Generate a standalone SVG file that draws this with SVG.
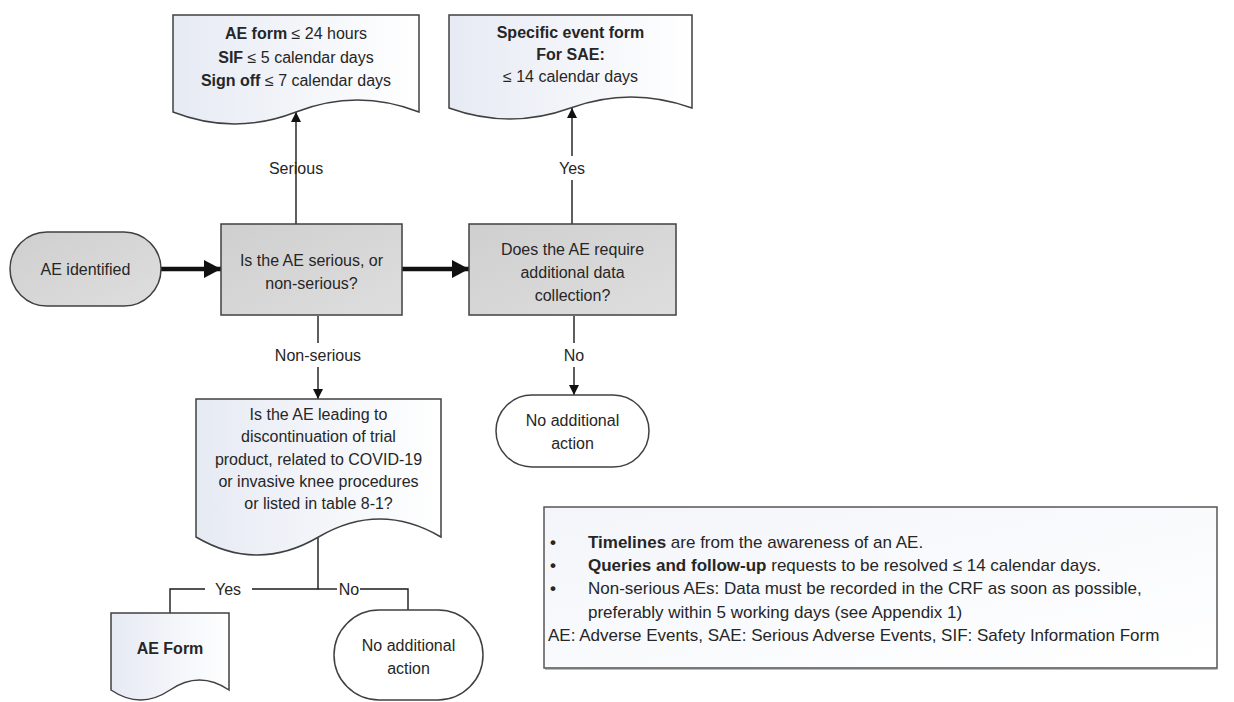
<svg xmlns="http://www.w3.org/2000/svg" width="1234" height="702" viewBox="0 0 1234 702">
<defs>
<style>
text{font-family:"Liberation Sans",Arial,sans-serif;font-size:16px;fill:#262626;text-anchor:middle;dominant-baseline:central}
.b{font-weight:bold}
.proc{fill:url(#gray);stroke:#404040;stroke-width:1.5}
.doc{fill:url(#doc);stroke:#404040;stroke-width:1.5}
.term{fill:#ffffff;stroke:#404040;stroke-width:1.5}
.conn{fill:none;stroke:#1a1a1a;stroke-width:1.4}
.thick{fill:none;stroke:#111;stroke-width:4.5}
.leg{text-anchor:start;font-size:17px}
</style>
<linearGradient id="gray" x1="0" y1="0" x2="1" y2="1">
<stop offset="0" stop-color="#cfcfcf"/><stop offset="1" stop-color="#dedede"/>
</linearGradient>
<linearGradient id="doc" x1="0" y1="0" x2="1" y2="0">
<stop offset="0" stop-color="#e6eaf3"/><stop offset="1" stop-color="#ffffff"/>
</linearGradient>
<linearGradient id="legfill" x1="0" y1="0" x2="1" y2="1">
<stop offset="0" stop-color="#f3f5fa"/><stop offset="1" stop-color="#ffffff"/>
</linearGradient>
<marker id="ah" markerUnits="userSpaceOnUse" markerWidth="10" markerHeight="10" refX="10" refY="5" orient="auto">
<path d="M0,0 L10,5 L0,10 z" fill="#111"/>
</marker>
<marker id="ahT" markerUnits="userSpaceOnUse" markerWidth="17" markerHeight="18" refX="17" refY="9" orient="auto">
<path d="M0,0 L17,9 L0,18 z" fill="#111"/>
</marker>
</defs>
<rect width="1234" height="702" fill="#fff"/>

<g id="connectors">
<line class="thick" x1="161" y1="269" x2="221" y2="269" marker-end="url(#ahT)"/>
<line class="thick" x1="402" y1="269" x2="469" y2="269" marker-end="url(#ahT)"/>
<line class="conn" x1="296" y1="224" x2="296" y2="112" marker-end="url(#ah)"/>
<line class="conn" x1="572" y1="224" x2="572" y2="180"/>
<line class="conn" x1="572" y1="156" x2="572" y2="108" marker-end="url(#ah)"/>
<line class="conn" x1="318" y1="316" x2="318" y2="343"/>
<line class="conn" x1="318" y1="367" x2="318" y2="399" marker-end="url(#ah)"/>
<line class="conn" x1="574" y1="316" x2="574" y2="343"/>
<line class="conn" x1="574" y1="367" x2="574" y2="395" marker-end="url(#ah)"/>
<polyline class="conn" points="318,538 318,589 252,589"/>
<polyline class="conn" points="205,589 170,589 170,613"/>
<line class="conn" x1="318" y1="589" x2="337" y2="589"/>
<polyline class="conn" points="360,589 408,589 408,610"/>
<text x="296" y="168">Serious</text>
<text x="572" y="168">Yes</text>
<text x="318" y="355">Non-serious</text>
<text x="574" y="355">No</text>
<text x="228" y="589">Yes</text>
<text x="349" y="589">No</text>
</g>

<g id="ae-identified">
<rect class="proc" x="10" y="232" width="151" height="74" rx="37"/>
<text x="85.5" y="269">AE identified</text>
</g>

<g id="serious-decision">
<rect class="proc" x="221" y="224" width="181" height="91"/>
<text x="311.5" y="260">Is the AE serious, or</text>
<text x="311.5" y="283">non-serious?</text>
</g>

<g id="additional-data">
<rect class="proc" x="469" y="224" width="207" height="91"/>
<text x="572.5" y="249">Does the AE require</text>
<text x="572.5" y="272">additional data</text>
<text x="572.5" y="295">collection?</text>
</g>

<g id="serious-timelines">
<path class="doc" d="M173,15 H419 V112 Q357.5,88 296,112 T173,112 Z"/>
<text x="296" y="33"><tspan class="b">AE form</tspan> ≤  24 hours</text>
<text x="296" y="57"><tspan class="b">SIF</tspan> ≤ 5 calendar days</text>
<text x="296" y="80"><tspan class="b">Sign off</tspan> ≤ 7 calendar days</text>
</g>

<g id="specific-event-form">
<path class="doc" d="M449,15 H692 V108 Q631,86 570.5,108 T449,108 Z"/>
<text class="b" x="570.5" y="32">Specific event form</text>
<text class="b" x="570.5" y="54">For SAE:</text>
<text x="570.5" y="76">≤ 14 calendar days</text>
</g>

<g id="no-action-right">
<rect class="term" x="496" y="395" width="153" height="72" rx="36"/>
<text x="572.5" y="420">No additional</text>
<text x="572.5" y="443">action</text>
</g>

<g id="leading-question">
<path class="doc" d="M196,399 H441 V537 Q379.75,501 318.5,537 T196,537 Z"/>
<text x="318.5" y="414">Is the AE leading to</text>
<text x="318.5" y="436">discontinuation of trial</text>
<text x="318.5" y="459">product, related to COVID-19</text>
<text x="318.5" y="481">or invasive knee procedures</text>
<text x="318.5" y="503">or listed in table 8-1?</text>
</g>

<g id="ae-form">
<path class="doc" d="M111,613 H229 V690 Q199.5,670 170,690 T111,690 Z"/>
<text class="b" x="170" y="648">AE Form</text>
</g>

<g id="no-action-bottom">
<rect class="term" x="334" y="610" width="149" height="90" rx="45"/>
<text x="408.5" y="645">No additional</text>
<text x="408.5" y="668">action</text>
</g>

<g id="legend">
<rect x="544" y="507" width="673" height="161" fill="url(#legfill)" stroke="#555" stroke-width="1.5"/>
<line x1="545" y1="668.5" x2="1217.5" y2="668.5" stroke="#777" stroke-width="2"/>
<text class="leg b" x="550" y="542">•</text>
<text class="leg" x="588" y="542"><tspan class="b">Timelines</tspan> are from the awareness of an AE.</text>
<text class="leg b" x="550" y="565">•</text>
<text class="leg" x="588" y="565"><tspan class="b">Queries and follow-up</tspan> requests to be resolved ≤ 14 calendar days.</text>
<text class="leg b" x="550" y="588">•</text>
<text class="leg" x="588" y="588">Non-serious AEs: Data must be recorded in the CRF as soon as possible,</text>
<text class="leg" x="588" y="612">preferably within 5 working days (see Appendix 1)</text>
<text class="leg" x="548" y="635">AE: Adverse Events, SAE: Serious Adverse Events, SIF: Safety Information Form</text>
</g>
</svg>
